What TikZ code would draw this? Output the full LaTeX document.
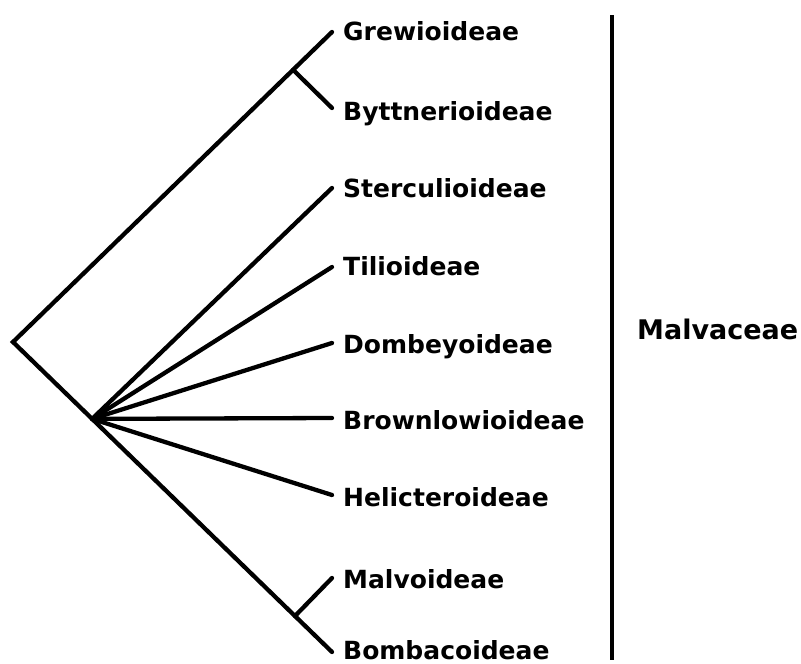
\documentclass[tikz,border=0pt]{standalone}
\usepackage{fontspec}
\setmainfont{DejaVu Sans}
\usetikzlibrary{calc}
\begin{document}
\begin{tikzpicture}[x=1pt,y=-1pt,
  branch/.style={line width=4.3pt, line cap=round, line join=miter},
  taxon/.style={anchor=west, inner sep=0pt, font=\fontsize{25}{25}\selectfont\bfseries, text height=18.2pt, text depth=0pt},
  family/.style={anchor=west, inner sep=0pt, font=\fontsize{27}{27}\selectfont\bfseries, text height=19.7pt, text depth=0pt}]
\useasboundingbox (0,0) rectangle (801,664);
% root and internal nodes
\coordinate (root) at (13,342);
\coordinate (tGrew) at (332,32);
\coordinate (tByt) at (332,108);
\coordinate (tSte) at (332,188);
\coordinate (tTil) at (332,267);
\coordinate (tDom) at (332,343);
\coordinate (tBro) at (332,418);
\coordinate (tHel) at (332,495);
\coordinate (tMal) at (332,578);
\coordinate (tBom) at (332,652);
\coordinate (nGB) at ($(root)!0.878!(tGrew)$);
\coordinate (nPoly) at ($(root)!0.248!(tBom)$);
\coordinate (nMB) at ($(root)!0.884!(tBom)$);
% labels
\node[taxon] (lGrew) at (343,31) {Grewioideae};
\node[taxon] (lByt) at (343,111) {Byttnerioideae};
\node[taxon] (lSte) at (343,188) {Sterculioideae};
\node[taxon] (lTil) at (343,266) {Tilioideae};
\node[taxon] (lDom) at (343,344) {Dombeyoideae};
\node[taxon] (lBro) at (343,420) {Brownlowioideae};
\node[taxon] (lHel) at (343,497) {Helicteroideae};
\node[taxon] (lMal) at (343,579) {Malvoideae};
\node[taxon] (lBom) at (343,650) {Bombacoideae};
\node[family] (lFam) at (637,330) {Malvaceae};
% branches
\draw[branch] (tGrew) -- (root) -- (tBom);
\draw[branch] (nGB) -- (tByt);
\draw[branch] (nMB) -- (tMal);
\foreach \t in {tSte,tTil,tDom,tBro,tHel}
  \draw[branch] (nPoly) -- (\t);
% bracket
\coordinate (bTop) at (612,15);
\coordinate (bBot) at (612,660);
\draw[line width=4.3pt] (bTop) -- (bBot);
\end{tikzpicture}
\end{document}
